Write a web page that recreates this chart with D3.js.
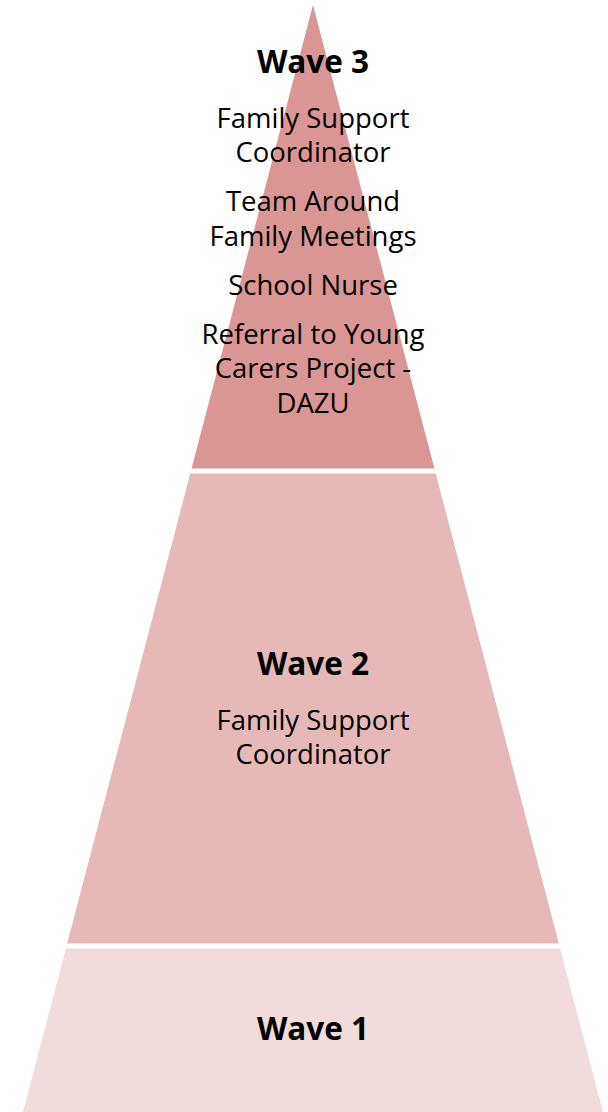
<!DOCTYPE html>
<html>
<head>
<meta charset="utf-8">
<script src="https://cdn.jsdelivr.net/npm/d3@7"></script>
<style>
  body { margin: 0; background: #fff; }
  svg { display: block; }
</style>
</head>
<body>
<div id="chart"></div>
<script>
// levels, top to bottom
const levels = ["Wave 3", "Wave 2", "Wave 1"];
// relative height of each layer
const layerSizes = [4.66, 4.75, 1.66];
const colors = ["#D99694", "#E6B9B8", "#F2DCDB"];
// text items per layer (each item may wrap to several lines)
const wave3Items = [
  ["Family Support", "Coordinator"],
  ["Team Around", "Family Meetings"],
  ["School Nurse"],
  ["Referral to Young", "Carers Project -", "DAZU"]
];
const wave2Items = [["Family Support", "Coordinator"]];
const wave1Items = [];
const layerItems = [wave3Items, wave2Items, wave1Items];

const width = 608, height = 1112;
const apexX = 313, apexY = 5, baseY = 1112, baseHalf = 290;
const gap = 5;

const total = d3.sum(layerSizes);
const y = d3.scaleLinear().domain([0, total]).range([apexY, baseY]);
const halfW = d3.scaleLinear().domain([apexY, baseY]).range([0, baseHalf]);

const cum = d3.cumsum(layerSizes);
const layers = levels.map((name, i) => ({
  name,
  color: colors[i],
  items: layerItems[i],
  y0: y(i === 0 ? 0 : cum[i - 1]) + (i === 0 ? 0 : gap / 2),
  y1: y(cum[i]) - (i === levels.length - 1 ? 0 : gap / 2)
}));

const svg = d3.select("#chart").append("svg")
  .attr("width", width)
  .attr("height", height);

svg.selectAll("path.layer")
  .data(layers)
  .join("path")
  .attr("class", "layer")
  .attr("fill", d => d.color)
  .attr("d", d => {
    const t = halfW(d.y0), b = halfW(d.y1);
    return d3.line()([
      [apexX - t, d.y0], [apexX + t, d.y0],
      [apexX + b, d.y1], [apexX - b, d.y1]
    ]) + "Z";
  });

const font = "'Open Sans', sans-serif";
const lineH = 34.5, itemGap = 14.5, titleGap = 56;
const itemSize = 27.5, titleSize = 31.5;

// title centres, roughly as placed in the original
const titleY = { "Wave 3": 62, "Wave 2": 664, "Wave 1": 1029 };

layers.forEach(d => {
  const cy = titleY[d.name];
  svg.append("text")
    .attr("x", apexX)
    .attr("y", cy)
    .attr("dy", "0.35em")
    .attr("text-anchor", "middle")
    .attr("font-family", font)
    .attr("font-weight", "bold")
    .attr("font-size", titleSize)
    .attr("fill", "#000")
    .text(d.name);
  let ly = cy + titleGap;
  d.items.forEach(item => {
    item.forEach(line => {
      svg.append("text")
        .attr("x", apexX)
        .attr("y", ly)
        .attr("dy", "0.35em")
        .attr("text-anchor", "middle")
        .attr("font-family", font)
        .attr("font-size", itemSize)
        .attr("fill", "#000")
        .text(line);
      ly += lineH;
    });
    ly += itemGap;
  });
});
</script>
</body>
</html>
